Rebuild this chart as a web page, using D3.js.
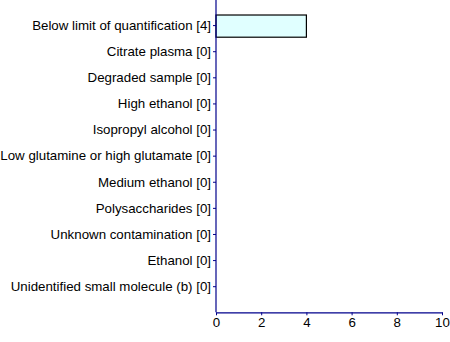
<!DOCTYPE html>
<html>
<head>
<meta charset="utf-8">
<script src="https://cdn.jsdelivr.net/npm/d3@7"></script>
<style>
  html, body { margin: 0; padding: 0; background: #fff; }
  svg { display: block; }
  text { font-family: "Liberation Sans", Arial, sans-serif; fill: #000; }
</style>
</head>
<body>
<svg id="chart" width="450" height="342"></svg>
<script>
// Sample categories and their counts
const categories = [
  "Below limit of quantification",
  "Citrate plasma",
  "Degraded sample",
  "High ethanol",
  "Isopropyl alcohol",
  "Low glutamine or high glutamate",
  "Medium ethanol",
  "Polysaccharides",
  "Unknown contamination",
  "Ethanol",
  "Unidentified small molecule (b)"
];
const counts = [4, 0, 0, 0, 0, 0, 0, 0, 0, 0, 0];
const xTicks = [0, 2, 4, 6, 8, 10];

const axisColor = "#00008B";
const fontSize = 13.3;
const svg = d3.select("#chart");

const x = d3.scaleLinear().domain([0, 10]).range([216, 442]);
const y = d3.scalePoint()
  .domain(categories.map((c, i) => `${c} [${counts[i]}]`))
  .range([-1, 312.3])
  .padding(1);

const barH = y.step() * 0.85;

// Bars
svg.append("g")
  .selectAll("rect")
  .data(categories.map((c, i) => ({ label: `${c} [${counts[i]}]`, v: counts[i] })))
  .join("rect")
  .filter(d => d.v > 0)
  .attr("x", x(0))
  .attr("y", d => y(d.label) - barH / 2 + 1)
  .attr("width", d => x(d.v) - x(0))
  .attr("height", barH)
  .attr("fill", "#E0FFFF")
  .attr("stroke", "#000")
  .attr("stroke-width", 1.2);

// Y axis
const gy = svg.append("g")
  .attr("transform", `translate(${x(0)},0)`)
  .call(d3.axisLeft(y).tickSize(3).tickPadding(2).tickSizeOuter(0));
gy.select(".domain").attr("stroke", axisColor).attr("stroke-width", 1.2)
  .attr("d", `M0,0V312.3`);
gy.selectAll(".tick line").attr("stroke", axisColor);
gy.selectAll(".tick text").attr("font-size", fontSize).attr("fill", "#000")
  .attr("font-family", "Liberation Sans, Arial, sans-serif");

// X axis
const gx = svg.append("g")
  .attr("transform", `translate(0,312.3)`)
  .call(d3.axisBottom(x).tickValues(xTicks).tickSize(3).tickPadding(2).tickSizeOuter(0));
gx.select(".domain").attr("stroke", axisColor).attr("stroke-width", 1.2);
gx.selectAll(".tick line").attr("stroke", axisColor);
gx.selectAll(".tick text").attr("font-size", fontSize).attr("fill", "#000")
  .attr("font-family", "Liberation Sans, Arial, sans-serif");
</script>
</body>
</html>
